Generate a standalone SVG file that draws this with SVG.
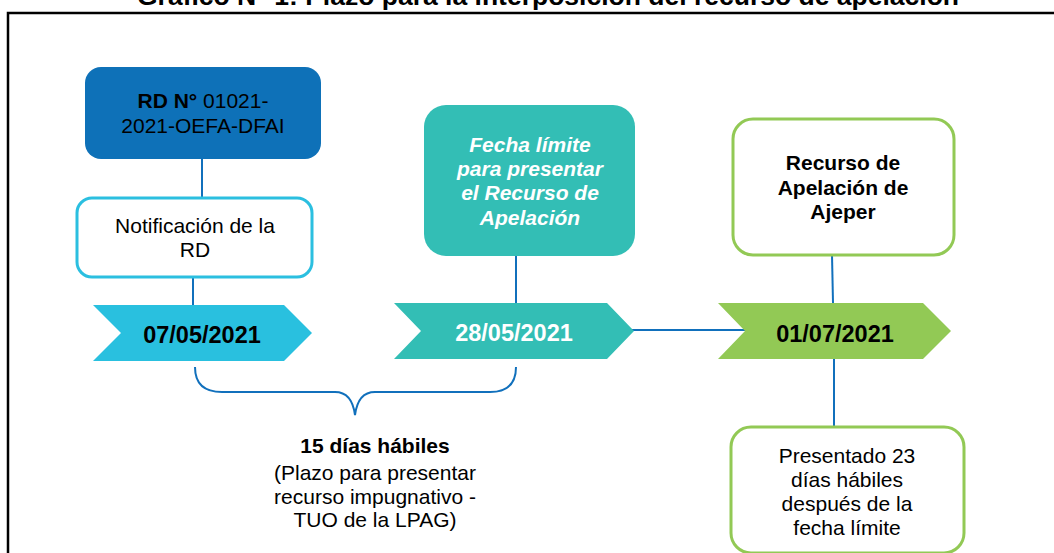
<svg xmlns="http://www.w3.org/2000/svg" width="1054" height="553" viewBox="0 0 1054 553">
<style>
  text { font-family: "Liberation Sans", Arial, sans-serif; font-size: 21px; fill: #000; text-anchor: middle; }
  .b { font-weight: bold; }
  .date { font-weight: bold; font-size: 23.5px; }
  .w { fill: #fff; }
  .conn { stroke: #1170BC; stroke-width: 2; fill: none; }
</style>
<rect x="0" y="0" width="1054" height="553" fill="#fff"/>
<text id="title" x="548" y="5" class="b" style="font-size:26.5px">Gráfico N° 1: Plazo para la interposición del recurso de apelación</text>
<rect id="frame" x="8" y="13" width="1060" height="560" fill="none" stroke="#000" stroke-width="2.5"/>

<g id="connectors">
  <line class="conn" x1="202" y1="159" x2="202" y2="197"/>
  <line class="conn" x1="193" y1="277" x2="193" y2="305"/>
  <line class="conn" x1="516" y1="256" x2="516" y2="303"/>
  <line class="conn" x1="625" y1="330" x2="745" y2="330"/>
  <line class="conn" x1="832" y1="255" x2="833" y2="303"/>
  <line class="conn" x1="834" y1="359" x2="834" y2="426"/>
  <path id="brace" class="conn" d="M195,367 Q195,392 222,392 L335,392 Q352,392 355,415 Q358,392 375,392 L490,392 Q516,392 516,367"/>
</g>

<g id="rd">
  <rect x="85" y="67" width="236" height="92" rx="16" fill="#0E71B8"/>
  <text x="203" y="108"><tspan class="b">RD N°</tspan> 01021-</text>
  <text x="203" y="133">2021-OEFA-DFAI</text>
</g>

<g id="notificacion">
  <rect x="77" y="198" width="235" height="79" rx="15" fill="#fff" stroke="#2BBFE0" stroke-width="3"/>
  <text x="195" y="233">Notificación de la</text>
  <text x="195" y="257">RD</text>
</g>

<g id="chevron1">
  <polygon points="93,305 284,305 312,333 284,361 93,361 121,333" fill="#29C0DF"/>
  <text x="202" y="343" class="date">07/05/2021</text>
</g>

<g id="fecha">
  <rect x="424" y="105" width="211" height="151" rx="22" fill="#33BEB5"/>
  <text x="530" y="152" class="b w" font-style="italic">Fecha límite</text>
  <text x="530" y="176" class="b w" font-style="italic">para presentar</text>
  <text x="530" y="200" class="b w" font-style="italic">el Recurso de</text>
  <text x="530" y="225" class="b w" font-style="italic">Apelación</text>
</g>

<g id="chevron2">
  <polygon points="394,303 607,303 634,331 607,359 394,359 421,331" fill="#33BEB5"/>
  <text x="514" y="341" class="date w">28/05/2021</text>
</g>

<g id="recurso">
  <rect x="733" y="119" width="221" height="136" rx="20" fill="#fff" stroke="#92C955" stroke-width="3"/>
  <text x="843" y="170" class="b">Recurso de</text>
  <text x="843" y="195" class="b">Apelación de</text>
  <text x="843" y="219" class="b">Ajeper</text>
</g>

<g id="chevron3">
  <polygon points="718,303 923,303 951,331 923,359 718,359 745,331" fill="#92C955"/>
  <text x="835" y="342" class="date">01/07/2021</text>
</g>

<g id="plazo">
  <text x="375" y="453" class="b">15 días hábiles</text>
  <text x="375" y="480">(Plazo para presentar</text>
  <text x="375" y="504">recurso impugnativo -</text>
  <text x="375" y="527">TUO de la LPAG)</text>
</g>

<g id="presentado">
  <rect x="731" y="427" width="233" height="126" rx="20" fill="#fff" stroke="#92C955" stroke-width="3"/>
  <text x="847" y="463">Presentado 23</text>
  <text x="847" y="487">días hábiles</text>
  <text x="847" y="511">después de la</text>
  <text x="847" y="535">fecha límite</text>
</g>
</svg>
